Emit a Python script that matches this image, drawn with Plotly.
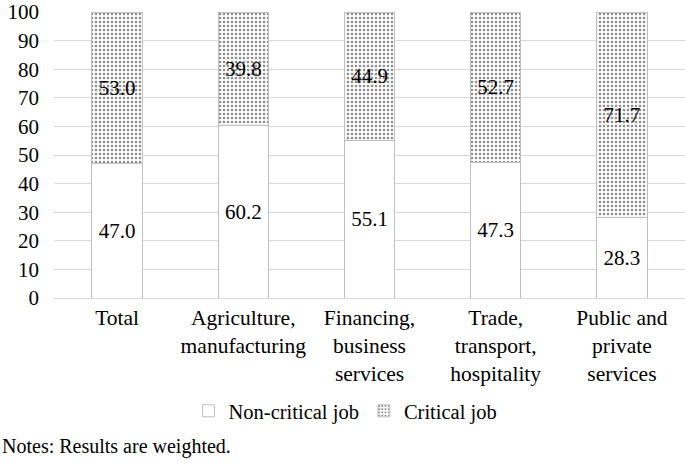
import plotly.graph_objects as go

categories = ["Total", "Agriculture,<br>manufacturing", "Financing,<br>business<br>services",
              "Trade,<br>transport,<br>hospitality", "Public and<br>private<br>services"]
non_critical = [47.0, 60.2, 55.1, 47.3, 28.3]
critical = [53.0, 39.8, 44.9, 52.7, 71.7]
y_ticks = [0, 10, 20, 30, 40, 50, 60, 70, 80, 90, 100]

FAMILY = "'Times New Roman', 'Liberation Serif', Times, serif"
font = dict(family=FAMILY, size=21, color="black")
cat_font = dict(family=FAMILY, size=21.5, color="black")

fig = go.Figure()
fig.add_trace(go.Bar(
    x=categories, y=non_critical, name="Non-critical job",
    marker=dict(color="white", line=dict(color="#bfbfbf", width=1)),
    text=[f"{v:.1f}" for v in non_critical], textposition="inside",
    insidetextanchor="middle", textfont=font, width=0.4,
))
fig.add_trace(go.Bar(
    x=categories, y=critical, name="Critical job",
    marker=dict(color="white", line=dict(color="#bfbfbf", width=1),
                pattern=dict(shape=".", fgcolor="#1a1a1a", bgcolor="white", size=4, solidity=0.33)),
    text=[f"{v:.1f}" for v in critical], textposition="inside",
    insidetextanchor="middle", textfont=font, width=0.4,
))

fig.update_layout(
    barmode="stack",
    width=685, height=468,
    margin=dict(l=54, r=0, t=12, b=170),
    paper_bgcolor="white", plot_bgcolor="white",
    font=font,
    showlegend=True,
    legend=dict(orientation="h", x=0.462, xanchor="center", y=-0.395, yanchor="middle",
                font=dict(family=FAMILY, size=20.5, color="black"),
                itemwidth=30, traceorder="normal"),
)
fig.update_yaxes(range=[0, 100], tickvals=y_ticks, showgrid=True, gridcolor="#d9d9d9",
                 gridwidth=1, zeroline=False, showline=False, ticks="", ticklen=0,
                 tickfont=font, ticklabelstandoff=14, automargin=False,
                 ticklabeloverflow="allow")
fig.update_xaxes(showline=True, linecolor="#d9d9d9", linewidth=1, tickfont=cat_font, ticks="",
                 automargin=False)

fig.add_annotation(text="Notes: Results are weighted.", xref="paper", yref="paper",
                   x=-54/631, xanchor="left", y=-0.52, yanchor="middle",
                   showarrow=False, font=dict(family=FAMILY, size=20, color="black"))

fig.write_html("out.html", post_script="document.body.style.margin='0px';",
               config={"displayModeBar": False})
